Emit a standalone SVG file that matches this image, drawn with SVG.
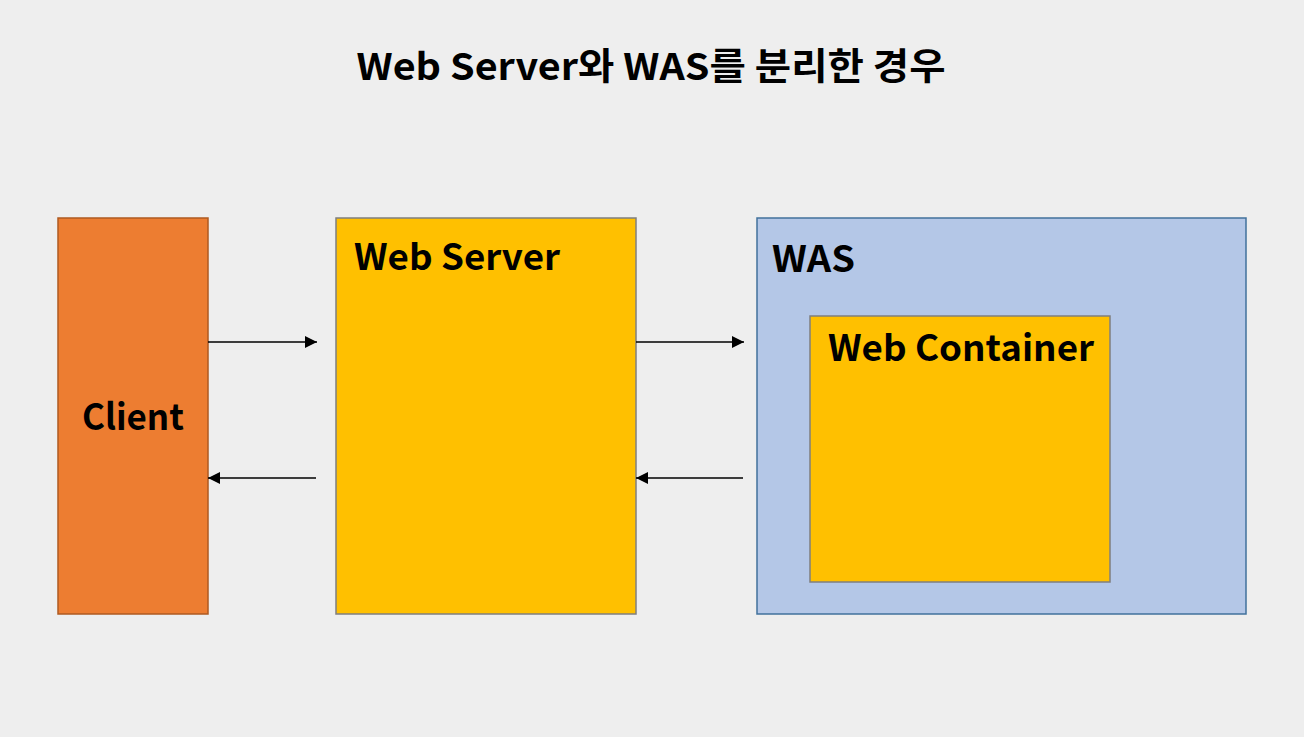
<svg xmlns="http://www.w3.org/2000/svg" width="1304" height="737" viewBox="0 0 1304 737">
<style>
text{font-family:"Noto Sans CJK KR","Noto Sans",sans-serif;font-weight:bold;fill:#000}
.lbl{font-size:36px}
.ln{stroke:#000;stroke-width:1.3;fill:none}
</style>
<defs>
<marker id="ah" viewBox="0 0 12 12" refX="12" refY="6" markerWidth="12" markerHeight="12" markerUnits="userSpaceOnUse" orient="auto">
<path d="M0,0 L12,6 L0,12 Z" fill="#000"/>
</marker>
</defs>
<rect width="1304" height="737" fill="#EEEEEE"/>
<text x="651" y="80" font-size="37" text-anchor="middle" textLength="589" lengthAdjust="spacingAndGlyphs">Web Server와 WAS를 분리한 경우</text>
<g id="client">
<rect x="58" y="218" width="150" height="396" fill="#ED7D31" stroke="#AE5A21" stroke-width="1.5"/>
<text class="lbl" x="82" y="430" textLength="102" lengthAdjust="spacingAndGlyphs">Client</text>
</g>
<g id="webserver">
<rect x="336" y="218" width="300" height="396" fill="#FFC000" stroke="#7F7F7F" stroke-width="1.5"/>
<text class="lbl" x="354" y="270" textLength="206" lengthAdjust="spacingAndGlyphs">Web Server</text>
</g>
<g id="was">
<rect x="757" y="218" width="489" height="396" fill="#B4C7E7" stroke="#41719C" stroke-width="1.5"/>
<text class="lbl" x="772" y="272" textLength="83" lengthAdjust="spacingAndGlyphs">WAS</text>
</g>
<g id="webcontainer">
<rect x="810" y="316" width="300" height="266" fill="#FFC000" stroke="#7F7F7F" stroke-width="1.5"/>
<text class="lbl" x="828" y="361" textLength="266" lengthAdjust="spacingAndGlyphs">Web Container</text>
</g>
<g id="connectors">
<line class="ln" x1="208" y1="342" x2="317" y2="342" marker-end="url(#ah)"/>
<line class="ln" x1="316" y1="478" x2="208" y2="478" marker-end="url(#ah)"/>
<line class="ln" x1="636" y1="342" x2="744" y2="342" marker-end="url(#ah)"/>
<line class="ln" x1="743" y1="478" x2="636" y2="478" marker-end="url(#ah)"/>
</g>
</svg>
